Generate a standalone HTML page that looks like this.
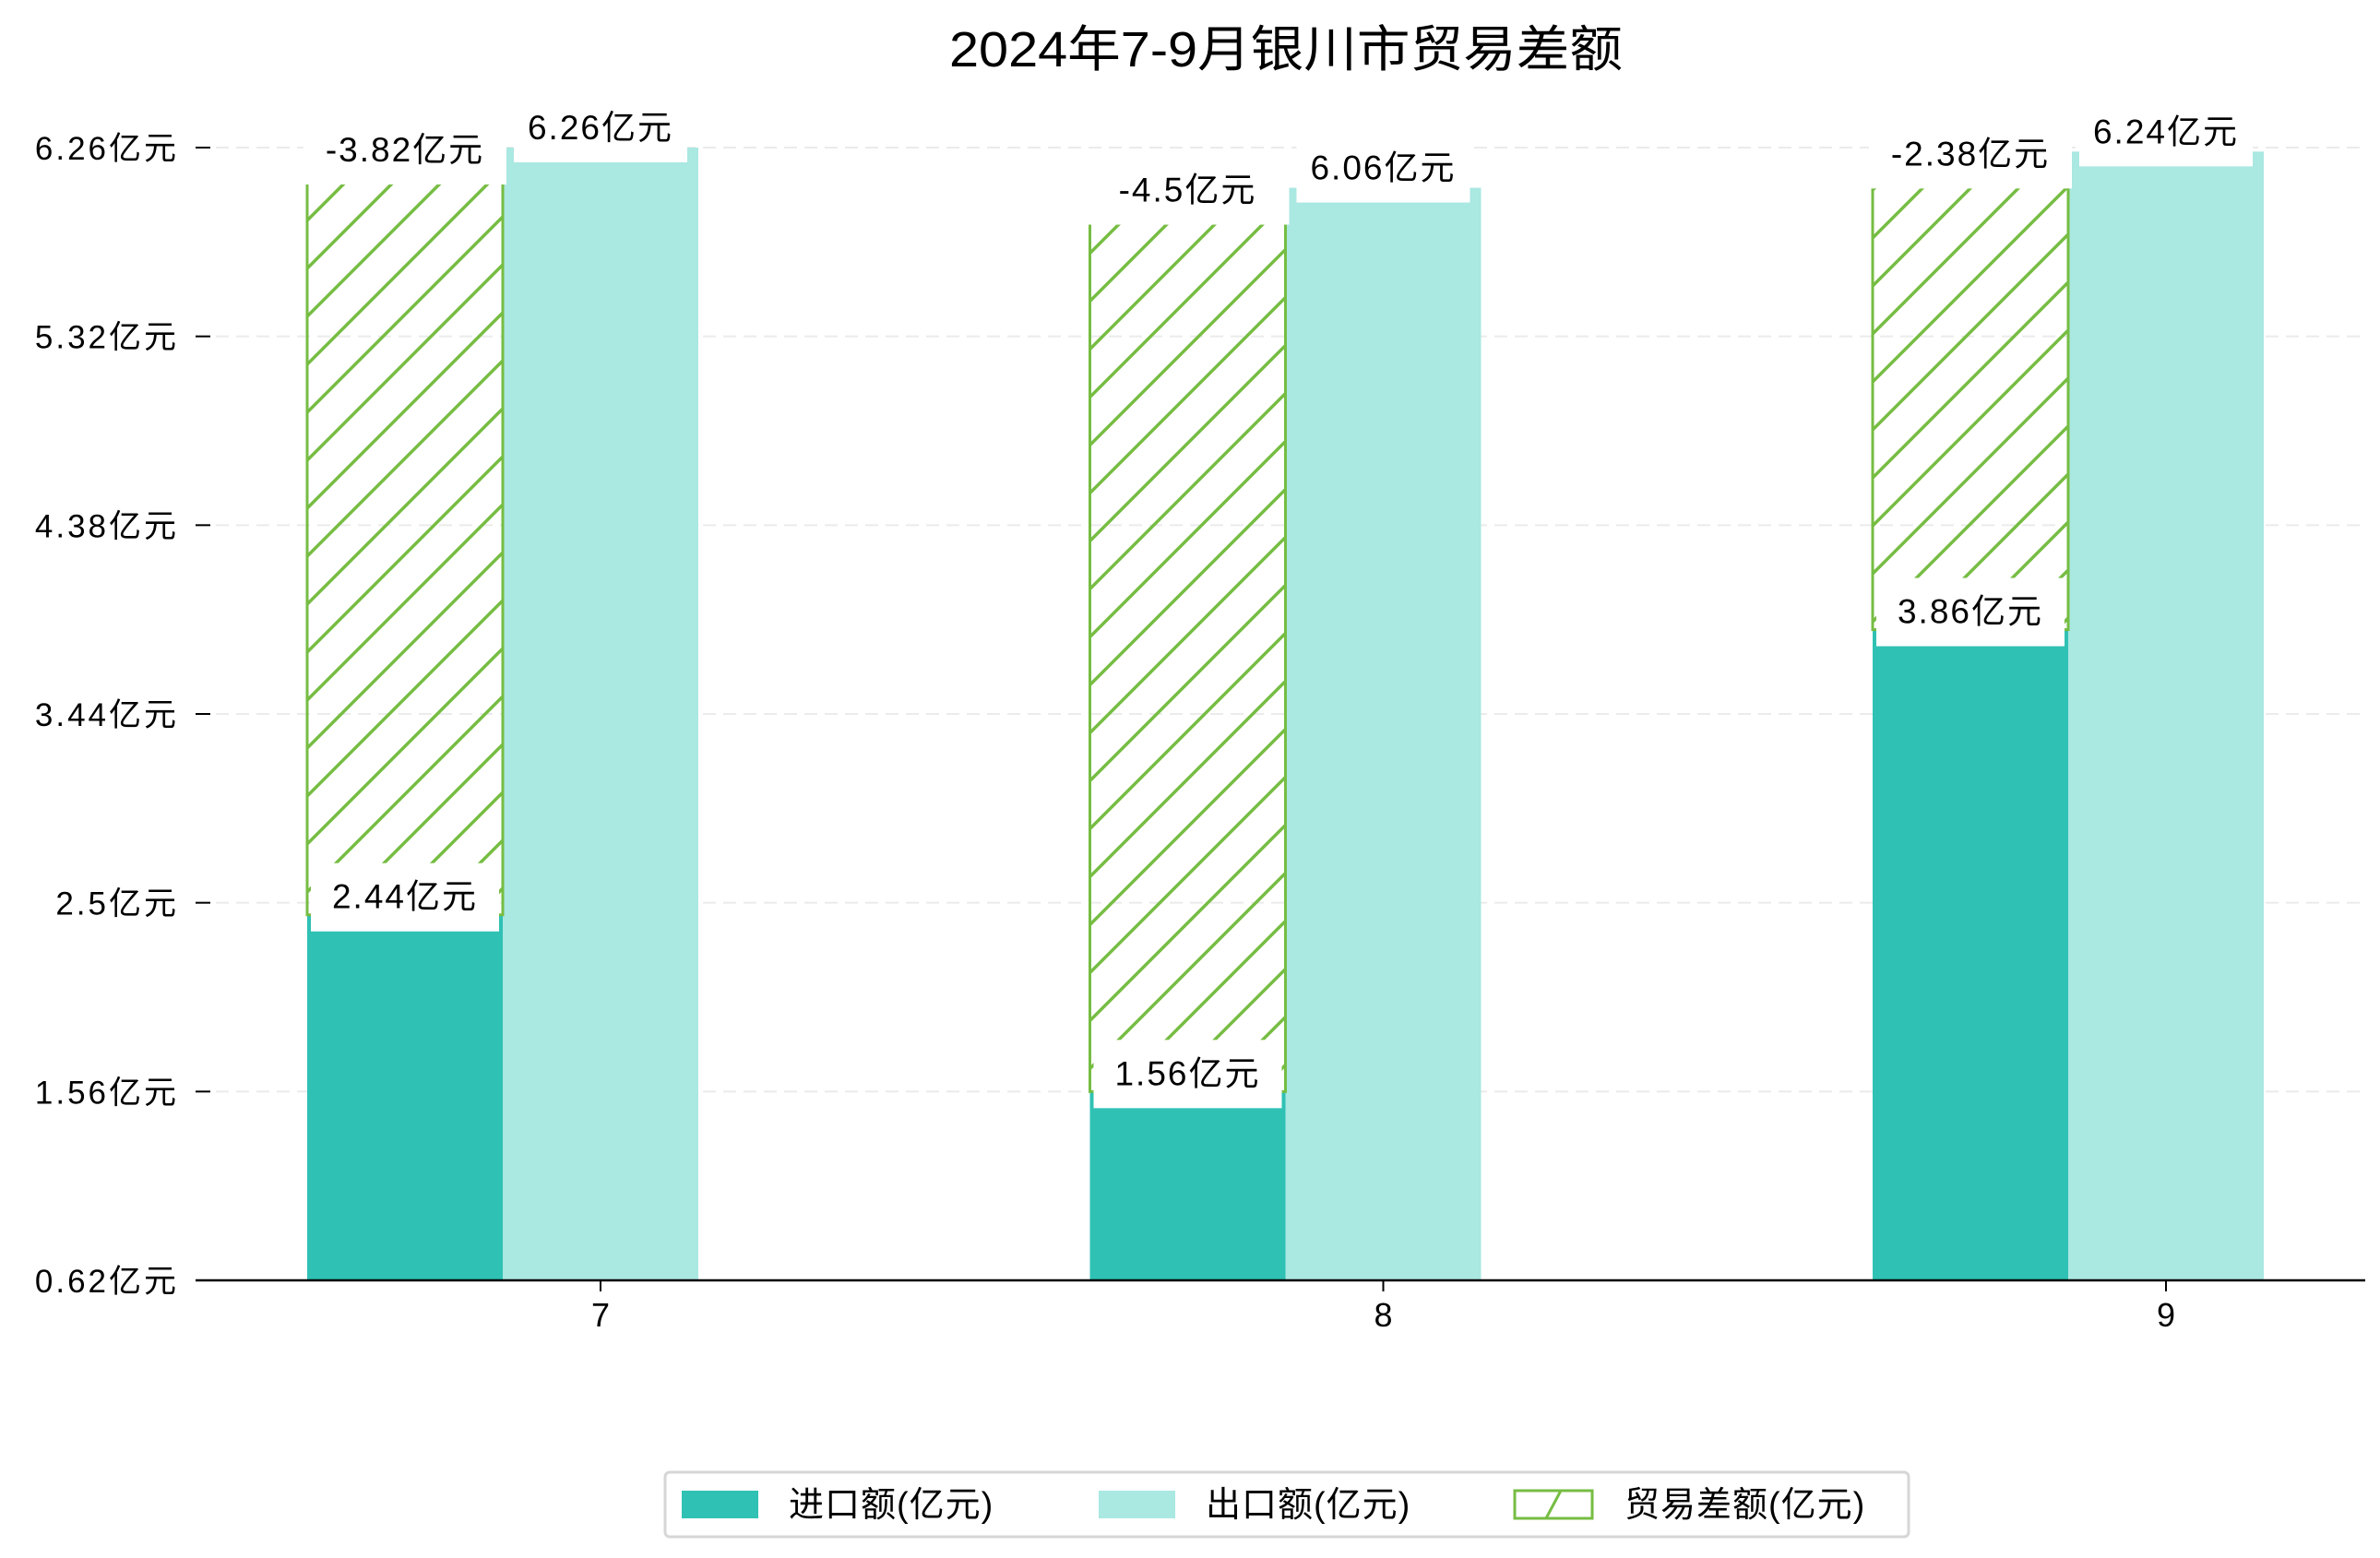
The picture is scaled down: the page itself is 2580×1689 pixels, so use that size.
<!DOCTYPE html>
<html><head><meta charset="utf-8"><style>
html,body{margin:0;padding:0;background:#fff}
svg{display:block}
text{font-family:"Liberation Sans","Noto Sans CJK SC",sans-serif;fill:#000}
</style></head><body>
<svg id="chart" width="2580" height="1689" viewBox="0 0 2580 1689" xmlns="http://www.w3.org/2000/svg">
<defs>
<pattern id="hatch" patternUnits="userSpaceOnUse" width="52" height="52">
<path d="M-13,13 L13,-13 M0,52 L52,0 M39,65 L65,39" stroke="#76bd43" stroke-width="3.5"/>
</pattern>
</defs>
<text x="1394" y="72" font-size="54" text-anchor="middle" textLength="730" lengthAdjust="spacingAndGlyphs">2024年7-9月银川市贸易差额</text>
<g id="grid"></g>
<g id="bars"></g>
<g id="labels"></g>
<g id="axes"></g>
<g>
<rect x="721" y="1596" width="1348" height="70" rx="5" fill="#fff" stroke="#d6d6d6" stroke-width="3"/>
<rect x="739" y="1616" width="83" height="30" fill="#2fc1b4"/>
<text x="855" y="1644" font-size="38" letter-spacing="1">进口额(亿元)</text>
<rect x="1191" y="1616" width="83" height="30" fill="#aae8e2"/>
<text x="1307" y="1644" font-size="38" letter-spacing="1">出口额(亿元)</text>
<rect x="1642" y="1616" width="84" height="30" fill="#fff" stroke="#76bd43" stroke-width="3"/>
<path d="M1676,1646 L1692,1616" stroke="#76bd43" stroke-width="3"/>
<text x="1761" y="1644" font-size="38" letter-spacing="1">贸易差额(亿元)</text>
</g>
</svg>
<script>
const months = ["7", "8", "9"];
const importVals = [2.44, 1.56, 3.86];
const exportVals = [6.26, 6.06, 6.24];
const balanceVals = [-3.82, -4.5, -2.38];
const yTicks = [0.62, 1.56, 2.5, 3.44, 4.38, 5.32, 6.26];
const yTickLabels = ["0.62亿元", "1.56亿元", "2.5亿元", "3.44亿元", "4.38亿元", "5.32亿元", "6.26亿元"];

const NS = "http://www.w3.org/2000/svg";
const X0 = 212, X1 = 2564, Y0 = 1388, Ytop = 160;
const yMin = 0.62, yMax = 6.26;
function yScale(v){ return Y0 - (v - yMin) / (yMax - yMin) * (Y0 - Ytop); }
const groupStart = 651, groupStep = 848.5, barW = 212;
function xTick(i){ return groupStart + groupStep * i; }
function mk(tag, attrs, parent){ const e = document.createElementNS(NS, tag); for (const k in attrs) e.setAttribute(k, attrs[k]); parent.appendChild(e); return e; }

const grid = document.getElementById('grid');
const axes = document.getElementById('axes');
const bars = document.getElementById('bars');
const labels = document.getElementById('labels');

yTicks.forEach((t, i) => {
  const y = yScale(t);
  if (i > 0) {
    const g = mk('line', {x1: X0, x2: X1, y1: y, y2: y, stroke: '#ebebeb', 'stroke-width': 2, 'stroke-dasharray': '14,8'}, grid);
    
    
  }
  const tk = mk('line', {x1: 212, x2: 228, y1: y, y2: y, stroke: '#000', 'stroke-width': 2}, axes);
  
  
  const tl = mk('text', {x: 194, y: y + 13, 'font-size': 35, 'text-anchor': 'end', 'letter-spacing': 3}, axes);
  tl.textContent = yTickLabels[i];
  
  
});
const xa = mk('line', {x1: X0, x2: X1, y1: Y0, y2: Y0, stroke: '#000', 'stroke-width': 2.5}, axes);



function label(cx, cy, txt, name, minW){
  const t = mk('text', {x: cx, y: cy + 13, 'font-size': 37, 'text-anchor': 'middle', 'letter-spacing': 2}, labels);
  t.textContent = txt;
  
  
  const w = Math.max(t.getComputedTextLength() + 30, minW || 0);
  const r = mk('rect', {x: cx - w / 2, y: cy - 36, width: w, height: 74, fill: '#fff'}, labels);
  
  
  labels.insertBefore(r, t);
}

months.forEach((m, i) => {
  const cx = xTick(i);
  const xe = cx - barW / 2, xi = xe - barW;
  const yi = yScale(importVals[i]), ye = yScale(exportVals[i]);
  const b1 = mk('rect', {x: xi, y: yi, width: barW, height: Y0 - yi, fill: '#2fc1b4'}, bars);
  
  
  const b2 = mk('rect', {x: xe, y: ye, width: barW, height: Y0 - ye, fill: '#aae8e2'}, bars);
  
  
  const top = importVals[i] + Math.abs(balanceVals[i]);
  const yt = yScale(top);
  const b3 = mk('rect', {x: xi, y: yt, width: barW, height: yi - yt, fill: 'url(#hatch)', stroke: '#76bd43', 'stroke-width': 3}, bars);
  
  
  const tk = mk('line', {x1: cx, x2: cx, y1: Y0, y2: Y0 + 12, stroke: '#000', 'stroke-width': 2}, axes);
  
  
  const tl = mk('text', {x: cx, y: Y0 + 50, 'font-size': 36, 'text-anchor': 'middle'}, axes);
  tl.textContent = m;
  
  
  label(xi + barW / 2, yi - 20, importVals[i] + '亿元', 'import-value-label', barW - 8);
  label(xe + barW / 2, ye - 22, exportVals[i] + '亿元', 'export-value-label');
  label(xi + barW / 2, yt + 2, balanceVals[i] + '亿元', 'balance-value-label', barW + 8);
});
</script>
</body></html>
